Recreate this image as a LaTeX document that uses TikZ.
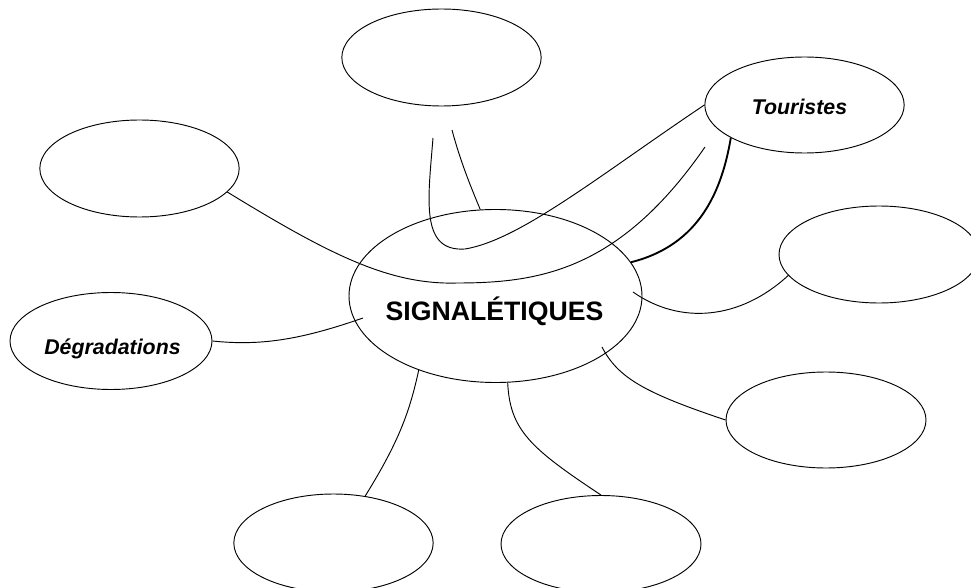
\documentclass[tikz,border=0pt]{standalone}
\usepackage{fontspec}
\setmainfont{Liberation Sans}
\usetikzlibrary{shapes.geometric}
\begin{document}
\begin{tikzpicture}[x=0.75pt,y=-0.75pt,
  bubble/.style={ellipse,draw,line width=0.7pt,inner sep=0pt,
                 minimum width=149.5pt,minimum height=72.75pt},
  link/.style={line width=0.7pt},
  heavylink/.style={line width=1.4pt},
  centretext/.style={font=\bfseries\fontsize{20}{24}\selectfont,anchor=base,inner sep=0pt},
  bubbletext/.style={font=\bfseries\itshape\fontsize{16}{19}\selectfont,anchor=base,inner sep=0pt}]
\useasboundingbox (0,0) rectangle (971,588);
\clip (0,0) rectangle (971,588);

% central theme and the surrounding bubbles
\node[bubble,minimum width=219.75pt,minimum height=129.75pt] (c) at (495.5,296) {};
\node[bubble] (top)  at (441.5,57.5) {};
\node[bubble] (tl)   at (139.5,168.5) {};
\node[bubble,minimum height=72pt] (tour) at (804.5,105) {};
\node[bubble,minimum width=150pt] (rup)  at (879,254.5) {};
\node[bubble,minimum width=150pt,minimum height=72pt] (rlo)  at (826,420) {};
\node[bubble,minimum height=73.5pt] (bl)   at (333.5,543) {};
\node[bubble,minimum width=150pt] (br)   at (601,544) {};
\node[bubble,minimum width=151.5pt] (deg)  at (111,341) {};

% texts
\node[centretext] (ctext) at (494.5,320) {SIGNALÉTIQUES};
\node[bubbletext] (ttext) at (799.5,115) {Touristes};
\node[bubbletext] (dtext) at (112.5,354) {Dégradations};

% loose ends of some connectors
\coordinate (aEnd) at (705,147);
\coordinate (bEnd) at (433,138);
\coordinate (cStart) at (452,130);
\coordinate (eStart) at (633,292);
\coordinate (fStart) at (602,347);
\coordinate (iEnd) at (363,318);

% connectors
\draw[link] (tl.-15) .. controls (330,255) and (390,285) .. (457,283)
                     .. controls (540,283) and (620,270) .. (aEnd);
\draw[link] (tour.180) .. controls (600,175) and (520,240) .. (465,249)
                       .. controls (420,252) and (428,200) .. (bEnd);
\draw[link] (cStart) .. controls (460,160) and (470,185) .. (c.100);
\draw[heavylink] (tour.204.5) .. controls (722,190) and (700,245) .. (c.14);
\draw[link] (eStart) .. controls (680,325) and (740,320) .. (rup.193);
\draw[link] (fStart) .. controls (618,378) and (645,393) .. (rlo.180);
\draw[link] (c.224) .. controls (410,410) and (400,440) .. (bl.56);
\draw[link] (c.278) .. controls (510,430) and (530,448) .. (br.north);
\draw[link] (deg.east) .. controls (260,346) and (300,340) .. (iEnd);
\end{tikzpicture}
\end{document}
